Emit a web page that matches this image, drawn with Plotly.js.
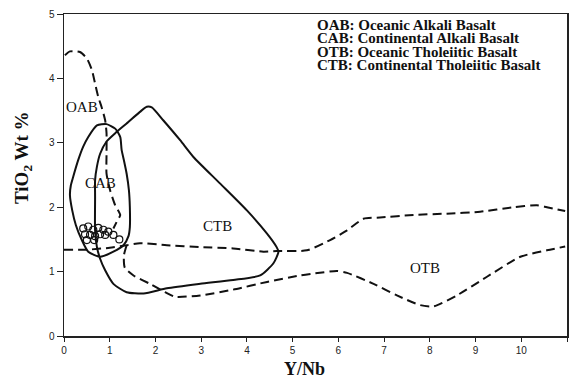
<!DOCTYPE html>
<html><head><meta charset="utf-8">
<script src="https://cdn.plot.ly/plotly-3.0.1.min.js"></script>
<style>html,body{margin:0;padding:0;background:#fff}#chart{width:572px;height:383px}</style>
</head><body><div id="chart"></div>
<script>
// OAB field (dashed)
const oabX = [0.02,0.13,0.35,0.50,0.61,0.68,0.75,0.82,0.90,0.93,0.93,0.93,1.01,1.12,1.23,1.15,1.08];
const oabY = [4.36,4.42,4.41,4.31,4.13,3.92,3.71,3.56,3.35,3.15,2.83,2.52,2.26,2.03,1.88,1.77,1.67];
// CAB field (solid closed loop)
const cabX = [0.31,0.42,0.53,0.72,0.93,1.12,1.23,1.26,1.31,1.37,1.42,1.44,1.44,1.41,1.30,1.08,0.79,0.53,0.39,0.26,0.18,0.13,0.15,0.20,0.31];
const cabY = [2.73,2.94,3.09,3.27,3.29,3.22,3.09,2.89,2.73,2.52,2.26,2.00,1.69,1.55,1.41,1.31,1.23,1.31,1.49,1.72,1.95,2.19,2.34,2.47,2.73];
// CTB field (solid closed loop)
const ctbX = [0.68,0.68,0.72,0.79,0.93,1.12,1.37,1.66,1.81,1.92,2.17,2.54,2.83,3.41,4.00,4.44,4.65,4.69,4.58,4.29,3.70,2.98,2.25,1.74,1.37,1.08,0.90,0.79,0.72,0.68,0.68];
const ctbY = [2.16,2.42,2.63,2.83,3.02,3.15,3.30,3.48,3.56,3.55,3.35,3.04,2.78,2.37,1.95,1.59,1.38,1.31,1.13,0.94,0.87,0.81,0.74,0.66,0.68,0.81,1.02,1.20,1.38,1.64,2.16];
// OTB upper boundary (dashed)
const otbUpX = [0.00,0.50,1.00,1.37,1.66,2.25,2.98,3.70,4.36,4.65,5.31,5.82,6.19,6.55,6.91,7.64,8.37,9.10,9.83,10.34,10.56,10.96];
const otbUpY = [1.34,1.34,1.37,1.41,1.44,1.41,1.38,1.36,1.31,1.32,1.33,1.49,1.64,1.82,1.84,1.88,1.90,1.93,2.00,2.03,2.00,1.94];
// OTB lower boundary (dashed)
const otbLoX = [1.37,1.31,1.33,1.52,1.88,2.21,2.43,2.98,3.70,4.44,5.16,5.46,5.97,6.19,6.77,7.28,7.79,8.08,8.59,9.25,9.98,10.56,10.96];
const otbLoY = [1.41,1.25,1.06,0.94,0.81,0.68,0.61,0.63,0.72,0.84,0.94,0.97,1.01,0.98,0.81,0.63,0.48,0.46,0.63,0.92,1.23,1.33,1.39];
// Samples (open circles)
const sampX = [0.42,0.53,0.64,0.75,0.86,0.97,1.08,1.21,0.46,0.57,0.68,0.79,0.90,0.50,0.66];
const sampY = [1.67,1.70,1.65,1.68,1.65,1.62,1.57,1.50,1.58,1.57,1.55,1.58,1.57,1.49,1.49];
// Field labels
const fieldNames = ['OAB','CAB','CTB','OTB'];
const fieldLabX = [0.39,0.79,3.36,7.90];
const fieldLabY = [3.55,2.38,1.71,1.06];
const legendLines = ['OAB: Oceanic Alkali Basalt','CAB: Continental Alkali Basalt','OTB: Oceanic Tholeiitic Basalt','CTB: Continental Tholeiitic Basalt'];

const dashStyle = {color:'#111', width:2, dash:'9px,5px', shape:'spline', smoothing:0.6};
const solidStyle = {color:'#111', width:2, shape:'spline', smoothing:0.6};
const traces = [
  {x:oabX, y:oabY, mode:'lines', line:dashStyle, hoverinfo:'skip'},
  {x:cabX, y:cabY, mode:'lines', line:solidStyle, hoverinfo:'skip'},
  {x:ctbX, y:ctbY, mode:'lines', line:solidStyle, hoverinfo:'skip'},
  {x:otbUpX, y:otbUpY, mode:'lines', line:dashStyle, hoverinfo:'skip'},
  {x:otbLoX, y:otbLoY, mode:'lines', line:dashStyle, hoverinfo:'skip'},
  {x:sampX, y:sampY, mode:'markers', marker:{symbol:'circle-open', size:7, color:'#111', line:{width:1.2}}, hoverinfo:'skip'}
];
const serif = 'Liberation Serif, Times New Roman, serif';
const L=64, R=567, T=14, B=336;
function px2paperX(p){return (p-L)/(R-L);}
function px2paperY(p){return (B-p)/(B-T);}
const annotations = [];
fieldNames.forEach((n,i)=>annotations.push({x:fieldLabX[i], y:fieldLabY[i], xref:'x', yref:'y', xanchor:'center', yanchor:'middle', text:n, showarrow:false, font:{family:serif, size:15, color:'#111'}}));
// legend block: one annotation, tight line spacing (set by the small base font), larger spans
const legText = legendLines.map(t=>'<span style="font-size:15px"><b>'+t+'</b></span>').join('<br>');
annotations.push({x:px2paperX(316), y:px2paperY(45), xref:'paper', yref:'paper', xanchor:'left', yanchor:'middle', align:'left', text:legText, showarrow:false, borderpad:0, font:{family:serif, size:10.3, color:'#111'}});
annotations.push({x:px2paperX(304), y:px2paperY(369), xref:'paper', yref:'paper', xanchor:'center', yanchor:'middle', text:'<b>Y/Nb</b>', showarrow:false, font:{family:serif, size:18, color:'#111'}});
annotations.push({x:px2paperX(23), y:px2paperY(158), xref:'paper', yref:'paper', xanchor:'center', yanchor:'middle', text:'<b>TiO<sub>2</sub> Wt %</b>', textangle:-90, showarrow:false, font:{family:serif, size:19, color:'#111'}});

const layout = {
  width:572, height:383, margin:{l:L, r:572-R, t:T, b:383-B},
  paper_bgcolor:'#fff', plot_bgcolor:'#fff', showlegend:false,
  xaxis:{range:[0,11], dtick:1, tick0:0, showgrid:false, zeroline:false, showline:true, mirror:true, linecolor:'#222', linewidth:1.5,
    ticks:'outside', ticklen:4, tickcolor:'#222', tickfont:{family:'Liberation Sans, Arial, sans-serif', size:10, color:'#222'}},
  yaxis:{range:[0,5], dtick:1, tick0:0, showgrid:false, zeroline:false, showline:true, mirror:true, linecolor:'#222', linewidth:1.5,
    ticks:'outside', ticklen:6, tickcolor:'#222', tickfont:{family:'Liberation Sans, Arial, sans-serif', size:10, color:'#222'}},
  annotations:annotations
};
Plotly.newPlot('chart', traces, layout, {displayModeBar:false, staticPlot:true});
</script></body></html>
